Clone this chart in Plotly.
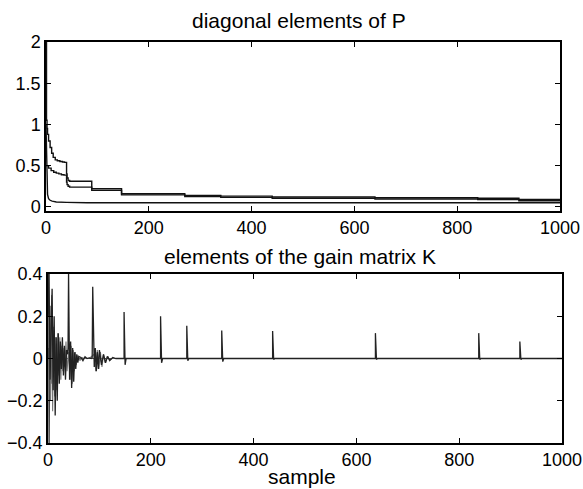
import plotly.graph_objects as go

# ---- diagonal elements of P (three curves) ----
p1_x = [0, 1, 2, 3, 5, 8, 11, 14, 18, 22, 27, 32, 36, 40, 41, 43, 46, 89, 147, 270, 340, 440, 640, 840, 920, 1000]
p1_y = [2.0, 1.05, 0.95, 0.88, 0.8, 0.72, 0.65, 0.6, 0.57, 0.56, 0.55, 0.545, 0.54, 0.4, 0.35, 0.32, 0.31, 0.22, 0.16, 0.14, 0.13, 0.12, 0.11, 0.105, 0.09, 0.09]

p2_x = [0, 2, 5, 10, 15, 20, 25, 30, 35, 40, 41, 43, 46, 89, 147, 270, 340, 440, 640, 840, 920, 1000]
p2_y = [0.5, 0.5, 0.47, 0.44, 0.42, 0.41, 0.40, 0.39, 0.385, 0.30, 0.27, 0.25, 0.24, 0.20, 0.145, 0.125, 0.115, 0.105, 0.095, 0.09, 0.075, 0.075]

p3_x = [0, 1, 2, 3, 5, 8, 12, 20, 40, 80, 1000]
p3_y = [1.0, 0.5, 0.25, 0.15, 0.1, 0.08, 0.07, 0.06, 0.055, 0.05, 0.05]

# ---- elements of the gain matrix K ----
ka_x = [0, 2, 4, 6, 8, 10, 12, 14, 16, 18, 20, 22, 24, 26, 28, 30, 32, 34, 36, 38, 39,
        40, 41, 42, 44, 46, 48, 50, 52, 54, 56, 58, 60, 64, 68, 72, 76, 80, 84, 86,
        87, 88, 89, 90, 92, 94, 96, 98, 100, 104, 108, 112, 116, 120, 126, 132, 140]
ka_y = [0.2, 0.4, -0.1, 0.15, 0.33, -0.15, 0.2, -0.27, 0.1, -0.2, 0.12, -0.12, 0.08, -0.05, 0.1, -0.08, 0.06, -0.1, 0.04, 0.02, 0.05,
        0.4, 0.1, -0.1, 0.08, -0.14, 0.05, -0.11, 0.03, -0.05, 0.02, -0.02, 0.01, 0.005, -0.01, 0.008, 0.0, 0.003, 0.0, 0.005,
        0.34, 0.1, 0.02, -0.04, 0.05, -0.06, 0.03, -0.05, 0.04, -0.03, 0.02, -0.02, 0.01, -0.01, 0.005, 0.0, 0.0]

spike_x = [148, 219, 270, 338, 437, 637, 838, 918]
spike_h = [0.22, 0.2, 0.155, 0.133, 0.13, 0.12, 0.12, 0.08]
spike_dip = [-0.03, -0.02, -0.01, -0.015, -0.005, -0.005, -0.005, -0.005]

kb_x = [0, 1, 3, 5, 7, 9, 11, 13, 15, 17, 19, 21, 23, 25, 27, 29, 31, 33, 35, 37, 40, 43, 45, 47, 49,
        51, 53, 55, 58, 62, 66, 70, 80, 90, 93, 96, 99, 102, 105, 108, 111, 115, 120, 125, 130, 1000]
kb_y = [0.05, 0.2, 0.22, -0.2, 0.3, -0.25, 0.15, -0.18, 0.1, -0.15, 0.12, -0.08, 0.1, -0.1, 0.06, -0.06, 0.05, -0.04, 0.08, -0.06, 0.03, -0.1, 0.06, -0.12, 0.04,
        -0.06, 0.03, -0.03, 0.015, -0.01, 0.005, 0.0, 0.0, 0.02, -0.06, 0.04, -0.05, 0.03, -0.04, 0.02, -0.02, 0.01, -0.005, 0.0, 0.0, 0.0]

kc_x = [0, 1, 2, 3, 4, 6, 8, 10, 14, 18, 24, 30, 1000]
kc_y = [0.0, 0.6, -0.6, -0.2, 0.25, -0.12, 0.1, -0.05, 0.04, -0.02, 0.01, 0.0, 0.0]

x_ticks = [0, 200, 400, 600, 800, 1000]

# build gain trace from early part + spikes
k_x = list(ka_x)
k_y = list(ka_y)
for s, h, d in zip(spike_x, spike_h, spike_dip):
    k_x += [s, s, s + 1, s + 2, s + 4]
    k_y += [0.0, h, 0.01, d, 0.0]
k_x.append(1000)
k_y.append(0.0)

fig = go.Figure()
lw = 1.4
fig.add_trace(go.Scatter(x=p1_x, y=p1_y, mode="lines", line=dict(color="#111", width=lw, shape="hv"), xaxis="x", yaxis="y"))
fig.add_trace(go.Scatter(x=p2_x, y=p2_y, mode="lines", line=dict(color="#111", width=lw, shape="hv"), xaxis="x", yaxis="y"))
fig.add_trace(go.Scatter(x=p3_x, y=p3_y, mode="lines", line=dict(color="#111", width=lw), xaxis="x", yaxis="y"))

fig.add_trace(go.Scatter(x=kc_x, y=kc_y, mode="lines", line=dict(color="#444", width=1.1), xaxis="x2", yaxis="y2"))
fig.add_trace(go.Scatter(x=kb_x, y=kb_y, mode="lines", line=dict(color="#777", width=1.1), xaxis="x2", yaxis="y2"))
fig.add_trace(go.Scatter(x=k_x, y=k_y, mode="lines", line=dict(color="#222", width=1.3), xaxis="x2", yaxis="y2"))

W, H = 583, 489
def xd(a, b):
    return [a / W, b / W]
def yd(top, bot):
    return [1 - bot / H, 1 - top / H]

axis_common = dict(showline=True, linecolor="black", linewidth=1.5, mirror="allticks",
                   ticks="inside", ticklen=5, tickcolor="black", tickwidth=1.2,
                   showgrid=False, zeroline=False, automargin=False,
                   tickfont=dict(family="Liberation Sans, Arial", size=18, color="black"))

fig.update_layout(
    width=W, height=H, margin=dict(l=0, r=0, t=0, b=0),
    paper_bgcolor="white", plot_bgcolor="white", showlegend=False,
    xaxis=dict(domain=xd(46, 560), range=[0, 1000], tickvals=x_ticks, anchor="y", **axis_common),
    yaxis=dict(domain=yd(42, 211), range=[-0.05, 2.0], tickvals=[0, 0.5, 1, 1.5, 2], anchor="x", **axis_common),
    xaxis2=dict(domain=xd(48, 562), range=[0, 1000], tickvals=x_ticks, anchor="y2", **axis_common),
    yaxis2=dict(domain=yd(274, 443), range=[-0.4, 0.4], tickvals=[-0.4, -0.2, 0, 0.2, 0.4], anchor="x2", **axis_common),
)

tfont = dict(family="Liberation Sans, Arial", size=21, color="black")
fig.add_annotation(text="diagonal elements of P", x=299 / W, y=1 - 20 / H, xref="paper", yref="paper",
                   showarrow=False, font=tfont, xanchor="center", yanchor="middle")
fig.add_annotation(text="elements of the gain matrix K", x=300 / W, y=1 - 256 / H, xref="paper", yref="paper",
                   showarrow=False, font=tfont, xanchor="center", yanchor="middle")
fig.add_annotation(text="sample", x=302 / W, y=1 - 476 / H, xref="paper", yref="paper",
                   showarrow=False, font=tfont, xanchor="center", yanchor="middle")

fig.write_html("out.html")
